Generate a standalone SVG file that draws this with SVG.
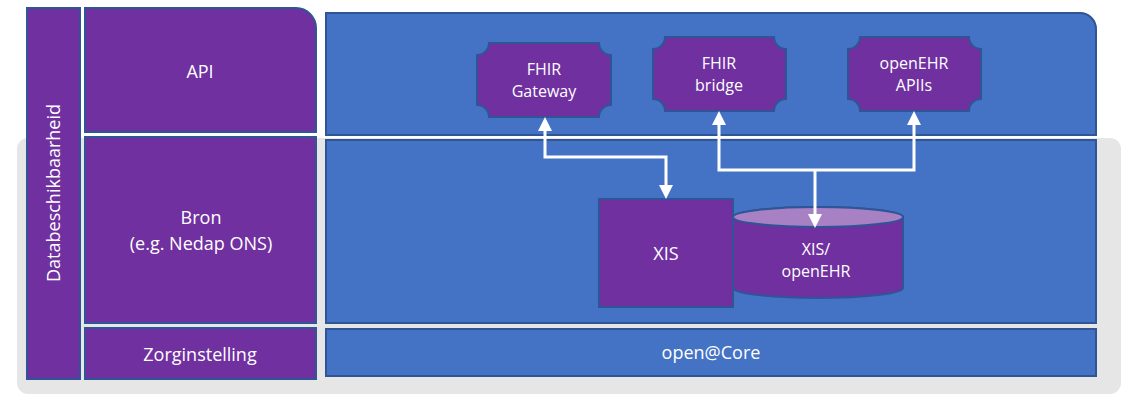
<svg xmlns="http://www.w3.org/2000/svg" width="1128" height="395" viewBox="0 0 1128 395">
<style>
.p{fill:#7030A0;stroke:#2F5597;stroke-width:2}
.b{fill:#4472C4;stroke:#2F5597;stroke-width:2}
.t{font-family:"Open Sans","Liberation Sans",sans-serif;fill:#FFFFFF;text-anchor:middle}
.l{font-size:18px}
.s{font-size:16px}
.c{fill:none;stroke:#FFFFFF;stroke-width:3}
</style>
<defs>
<marker id="ah" viewBox="0 -7 14 14" refX="0" refY="0" markerWidth="14" markerHeight="14" markerUnits="userSpaceOnUse" orient="auto-start-reverse">
<path d="M0,-7 L14,0 L0,7 Z" fill="#FFFFFF"/>
</marker>
</defs>
<rect width="1128" height="395" fill="#FFFFFF"/>
<rect id="background" x="17" y="138" width="1104" height="256" rx="11" fill="#E7E6E6"/>
<g id="databeschikbaarheid">
<rect class="p" x="27" y="8" width="53" height="371"/>
<text class="t l" transform="translate(60,193) rotate(-90)">Databeschikbaarheid</text>
</g>
<g id="api">
<path class="p" d="M85,8 H296 A20,20 0 0 1 316,28 V132 H85 Z"/>
<text class="t l" x="200" y="78">API</text>
</g>
<g id="bron">
<rect class="p" x="85" y="137" width="231" height="186"/>
<text class="t l" x="201" y="224">Bron</text>
<text class="t l" x="201" y="250">(e.g. Nedap ONS)</text>
</g>
<g id="zorginstelling">
<rect class="p" x="85" y="328" width="231" height="51"/>
<text class="t l" x="200" y="361">Zorginstelling</text>
</g>
<g id="api-panel">
<path class="b" d="M326,13 H1080 A16,16 0 0 1 1096,29 V135 H326 Z"/>
</g>
<g id="bron-panel">
<rect class="b" x="326" y="140" width="770" height="183"/>
</g>
<g id="opencore">
<rect class="b" x="326" y="329" width="770" height="47"/>
<text class="t l" x="711" y="359">open@Core</text>
</g>
<g id="fhir-gateway">
<path class="p" d="M489,43 H599 A12,12 0 0 0 611,55 V105 A12,12 0 0 0 599,117 H489 A12,12 0 0 0 477,105 V55 A12,12 0 0 0 489,43 Z"/>
<text class="t s" x="544" y="75">FHIR</text>
<text class="t s" x="544" y="97">Gateway</text>
</g>
<g id="fhir-bridge">
<path class="p" d="M665,37 H774 A12,12 0 0 0 786,49 V99 A12,12 0 0 0 774,111 H665 A12,12 0 0 0 653,99 V49 A12,12 0 0 0 665,37 Z"/>
<text class="t s" x="719" y="69">FHIR</text>
<text class="t s" x="719" y="91">bridge</text>
</g>
<g id="openehr-apis">
<path class="p" d="M860,37 H969 A12,12 0 0 0 981,49 V99 A12,12 0 0 0 969,111 H860 A12,12 0 0 0 848,99 V49 A12,12 0 0 0 860,37 Z"/>
<text class="t s" x="914" y="69">openEHR</text>
<text class="t s" x="914" y="91">APIIs</text>
</g>
<g id="xis-openehr">
<path class="p" d="M733,217 V288 A85,10 0 0 0 903,288 V217 A85,10 0 0 0 733,217 Z"/>
<ellipse cx="818" cy="217" rx="85" ry="10" fill="#A880C4" stroke="#2F5597" stroke-width="2"/>
<text class="t s" x="816" y="255">XIS/</text>
<text class="t s" x="816" y="277">openEHR</text>
</g>
<g id="xis">
<rect class="p" x="599" y="199" width="134" height="108"/>
<text class="t l" x="666" y="260">XIS</text>
</g>
<g id="connectors">
<path class="c" d="M545,131 V157 H666 V185" marker-start="url(#ah)" marker-end="url(#ah)"/>
<path class="c" d="M719,125 V170 H914 V125" marker-start="url(#ah)" marker-end="url(#ah)"/>
<path class="c" d="M815,170 V214" marker-end="url(#ah)"/>
</g>
</svg>
